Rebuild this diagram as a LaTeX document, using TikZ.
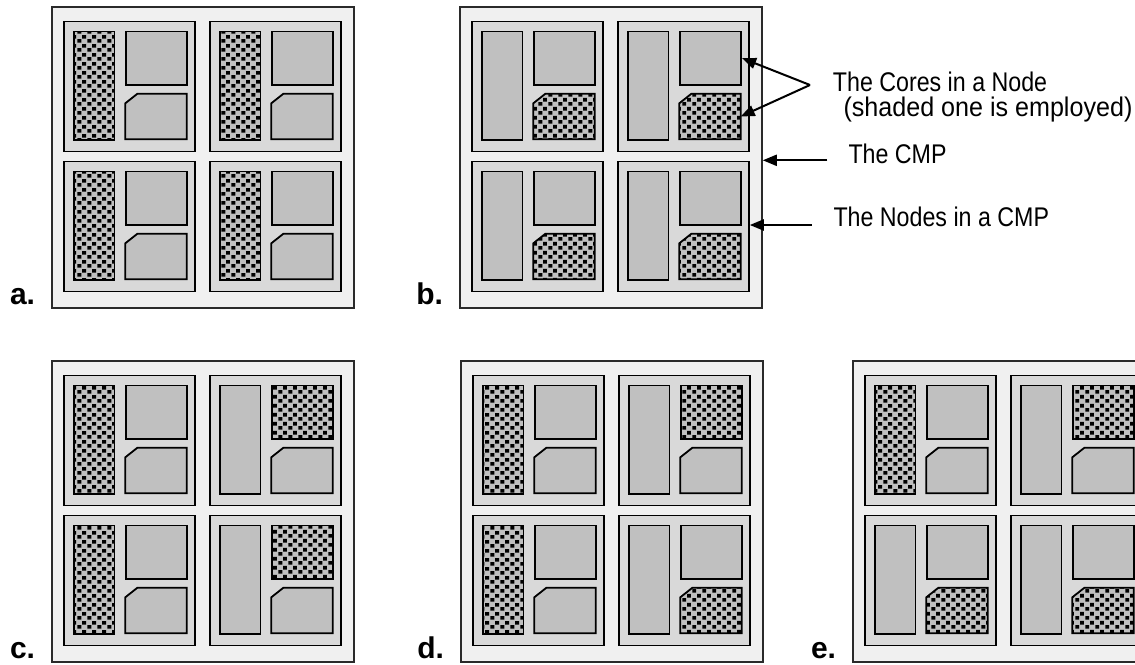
\documentclass[tikz,border=0pt]{standalone}
\usepackage{fontspec}
\setmainfont{Liberation Sans}
\newfontfamily\notefont[FakeStretch=0.86]{Liberation Sans}
\newfontfamily\asidefont[FakeStretch=0.93]{Liberation Sans}
\usetikzlibrary{patterns,arrows.meta}
\definecolor{chipgrey}{HTML}{F0F0F0}
\definecolor{nodegrey}{HTML}{D9D9D9}
\definecolor{coregrey}{HTML}{C0C0C0}
\definecolor{rimgrey}{HTML}{2A2A2A}

% stipple used for the employed core
\pgfdeclarepatternformonly{confetti}{\pgfpointorigin}{\pgfqpoint{9.6pt}{9pt}}{\pgfqpoint{9.6pt}{9pt}}{%
  \pgfpathrectangle{\pgfqpoint{0.5pt}{0.4pt}}{\pgfqpoint{3.9pt}{3.9pt}}%
  \pgfpathrectangle{\pgfqpoint{5.3pt}{4.9pt}}{\pgfqpoint{3.9pt}{3.9pt}}%
  \pgfusepath{fill}}

\tikzset{
  cmpbox/.style={draw=rimgrey,fill=chipgrey,line width=1.5pt,minimum width=302pt,minimum height=301pt,inner sep=0pt},
  nodebox/.style={draw=black,fill=nodegrey,line width=1.8pt,minimum width=131pt,minimum height=130pt,inner sep=0pt,anchor=north west},
  core/.style={draw=black,fill=coregrey,line width=1.8pt,inner sep=0pt,anchor=north west},
  slot/.style={inner sep=0pt,anchor=north west},
  busy/.style={preaction={fill=coregrey},pattern=confetti,pattern color=black},
  pick/.code 2 args={\ifnum#1=#2\relax\pgfkeysalso{busy}\fi},
  pointer/.style={-{Triangle[length=14pt,width=11pt]},line width=2pt},
  note/.style={font=\notefont\fontsize{27}{27}\selectfont,inner sep=0pt,anchor=base west},
  aside/.style={note,font=\asidefont\fontsize{27}{27}\selectfont},
  panel/.style={font=\bfseries\fontsize{30}{30}\selectfont,inner sep=0pt,text depth=0pt,anchor=base east}
}

% one node of a CMP: name, x, y, shaded core (1 tall, 2 square, 3 lower)
\newcommand{\cpunode}[4]{%
  \node[nodebox] (#1) at (#2,#3) {};
  \node[core,minimum width=40.6pt,minimum height=108.3pt,pick={#4}{1}] (#1-1) at ([xshift=10pt,yshift=-10pt]#1.north west) {};
  \node[core,minimum width=61pt,minimum height=53.6pt,pick={#4}{2}] (#1-2) at ([xshift=62.3pt,yshift=-10pt]#1.north west) {};
  \node[slot,minimum width=61pt,minimum height=45pt] (#1-3) at ([xshift=62.3pt,yshift=-73.3pt]#1.north west) {};
  \path[core,pick={#4}{3}] ([yshift=-9.5pt]#1-3.north west) -- ([xshift=12pt]#1-3.north west)
    -- (#1-3.north east) -- (#1-3.south east) -- (#1-3.south west) -- cycle;
}

% a whole CMP: name, x, y, shaded core of its four nodes
\newcommand{\cmpchip}[7]{%
  \node[cmpbox] (#1) at (#2+151,#3+150.5) {};
  \cpunode{#11}{#2+11}{#3+13.5}{#4}
  \cpunode{#12}{#2+157}{#3+13.5}{#5}
  \cpunode{#13}{#2+11}{#3+153.5}{#6}
  \cpunode{#14}{#2+157}{#3+153.5}{#7}
  \node[panel] (#1lbl) at ([xshift=-16pt,yshift=4pt]#1.south west) {#1.};
}

\begin{document}
\begin{tikzpicture}[x=1pt,y=-1pt]
  \useasboundingbox (0,0) rectangle (1135,664);
  \clip (0,0) rectangle (1135,664);
  \cmpchip{a}{52}{7}{1}{1}{1}{1}
  \cmpchip{b}{460}{7}{3}{3}{3}{3}
  \cmpchip{c}{52}{361}{1}{2}{1}{2}
  \cmpchip{d}{461}{361}{1}{2}{1}{3}
  \cmpchip{e}{853}{361}{1}{2}{3}{3}
  % callouts on b
  \node[note] (cores) at (832.7,91.7) {The Cores in a Node};
  \node[aside] (shaded) at (843.3,116) {(shaded one is employed)};
  \node[note] (cmp) at (848.3,163.3) {The CMP};
  \node[note] (nodes) at (833.3,226.7) {The Nodes in a CMP};
  \coordinate (fork) at (810,85);
  \coordinate (cmptail) at ([xshift=-21pt,yshift=3pt]cmp.base west);
  \coordinate (nodetail) at ([xshift=-21.6pt,yshift=1.7pt]nodes.base west);
  \draw[pointer] (fork) -- (b2-2.east);
  \draw[pointer] (fork) -- (b2-3.east);
  \draw[pointer] (cmptail) -- (cmptail -| b.east);
  \draw[pointer] (nodetail) -- (nodetail -| b4.east);
\end{tikzpicture}
\end{document}
